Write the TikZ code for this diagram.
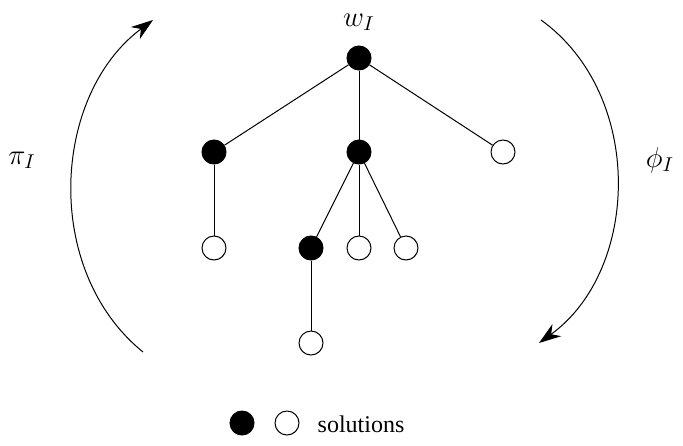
\documentclass[tikz,border=0pt]{standalone}
\usepackage{fontspec}
\setmainfont{Liberation Serif}
\usepackage{tikz}
\usetikzlibrary{arrows.meta}

\begin{document}
\begin{tikzpicture}[x=0.5pt,y=-0.5pt,
    full/.style={circle,draw,fill=black,inner sep=0pt,minimum size=12pt,line width=0.5pt},
    hollow/.style={circle,draw,fill=white,inner sep=0pt,minimum size=12pt,line width=0.5pt},
    edge/.style={line width=0.5pt},
    turn/.style={line width=0.5pt,-{Stealth[length=11pt,width=7.5pt,inset=3.5pt]}}]
      \useasboundingbox (0,0) rectangle (683,445);
      \node[full]   (359 58)  at (359,58)  {};
      \node[full]   (214 152) at (214,152) {};
      \node[full]   (359 152) at (359,152) {};
      \node[hollow] (503 152) at (503,152) {};
      \node[hollow] (214 248) at (214,248) {};
      \node[full]   (311 248) at (311,248) {};
      \node[hollow] (359 248) at (359,248) {};
      \node[hollow] (406 248) at (406,248) {};
      \node[hollow] (311 343) at (311,343) {};
      \node (359 20) at (359,22) {\Large $w_I$};
      \draw [edge] (359 58) -- (214 152);
      \draw [edge] (359 58) -- (359 152);
      \draw [edge] (359 58) -- (503 152);
      \draw [edge] (214 152) -- (214 248);
      \draw [edge] (359 152) -- (311 248);
      \draw [edge] (359 152) -- (359 248);
      \draw [edge] (359 152) -- (406 248);
      \draw [edge] (311 248) -- (311 343);
      % the two maps round the tree
      \coordinate (143 352) at (143,352);
      \coordinate (153 20)  at (153,20);
      \coordinate (541 20)  at (541,20);
      \coordinate (539 343) at (539,343);
      \draw [turn] (143 352) .. controls (42,270) and (52,95) .. (153 20);
      \draw [turn] (541 20) .. controls (645,95) and (640,270) .. (539 343);
      \node (22 160)  at (22,160)  {\Large $\pi_I$};
      \node (660 160) at (660,160) {\Large $\phi_I$};
      % legend
      \node[full]   (242 423) at (242,423) {};
      \node[hollow] (287 423) at (287,423) {};
      \node (361 424) at (361,424) {\large solutions};
    \end{tikzpicture}
\end{document}
